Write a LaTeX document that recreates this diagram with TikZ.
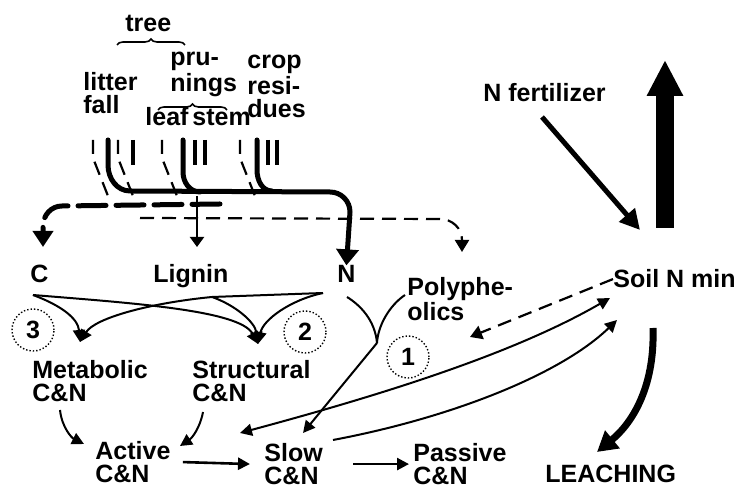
\documentclass[tikz,border=0pt]{standalone}
\usepackage{fontspec}
\setmainfont{Liberation Sans}
\usetikzlibrary{arrows.meta, positioning, decorations.pathreplacing}

\begin{document}
\begin{tikzpicture}[x=0.5pt, y=-0.5pt,
    lbl/.style={inner sep=0pt, font=\bfseries\fontsize{12.5}{11.5}\selectfont, align=left},
    flow/.style={line width=2.5pt, line cap=round},
    link/.style={line width=1pt, -{Triangle[length=6pt, width=6pt]}},
    pflow/.style={line width=1.1pt, dash pattern=on 7pt off 4pt},
    ring/.style={draw, circle, densely dotted, line width=0.7pt, minimum size=21pt}]
    \useasboundingbox (0,0) rectangle (740,490);

    % Residue sources
    \node[lbl, anchor=base west] (tree) at (125,32) {tree};
    \node[lbl, anchor=north west] (prun) at (170,52) {pru-\\nings};
    \node[lbl, anchor=north west] (crop) at (247,55) {crop\\resi-\\dues};
    \node[lbl, anchor=north west] (litter) at (83,72) {litter\\fall};
    \node[lbl, anchor=base west] (leaf) at (145,126) {leaf};
    \node[lbl, anchor=base west] (stem) at (192,126) {stem};
    \draw[decorate, decoration={brace, amplitude=3pt}, line width=0.8pt] (117,45) -- (185,45);
    \draw[decorate, decoration={brace, amplitude=3pt}, line width=0.8pt] (158,110) -- (227,110);

    % Pools
    \node[lbl, anchor=base west] (C) at (30,283) {C};
    \node[lbl, anchor=base west] (lignin) at (153,283) {Lignin};
    \node[lbl, anchor=base west] (N) at (337,283) {N};
    \node[lbl, anchor=north west] (poly) at (407,277) {Polyphe-\\olics};
    \node[lbl, anchor=base west] (soil) at (613,288) {Soil N min};
    \node[lbl, anchor=base west] (fert) at (483,102) {N fertilizer};
    \node[lbl, anchor=base west] (leach) at (545,483) {LEACHING};
    \node[lbl, anchor=north west] (meta) at (32,360) {Metabolic\\C\&N};
    \node[lbl, anchor=north west] (struct) at (192,360) {Structural\\C\&N};
    \node[lbl, anchor=north west] (active) at (95,441) {Active\\C\&N};
    \node[lbl, anchor=north west] (slow) at (264,443) {Slow\\C\&N};
    \node[lbl, anchor=north west] (passive) at (413,443) {Passive\\C\&N};

    % Numbered controls
    \node[lbl, ring] (r3) at (33,330) {3};
    \node[lbl, ring] (r2) at (305,332) {2};
    \node[lbl, ring] (r1) at (408,357) {1};

    % Short stream bars under the sources
    \foreach \x in {133,195,205,268,277}
        \draw[line width=2.2pt] (\x,140) -- (\x,165);
    \foreach \x in {93,118,162,240}
        \draw[pflow] (\x,140) -- (\x,158) -- (\x+15,196);

    % N stream (solid)
    \draw[flow, -{Triangle[length=8pt, width=11pt]}] (108,140) -- (108,165) to[out=-90, in=180] (130,191) -- (330,192) to[out=0, in=90] (350,212) -- (N.north);
    \draw[flow] (183,140) -- (183,172) to[out=-90, in=180] (200,192);
    \draw[flow] (257,140) -- (257,170) to[out=-90, in=180] (272,191);

    % C stream (thick dashed) and lignin / polyphenolic streams
    \draw[flow, dash pattern=on 14pt off 5pt, -{Triangle[length=8pt, width=10pt]}] (220,204) -- (62,206) to[out=180, in=90] (43,226) -- (43,247);
    \draw[line width=1pt, -{Triangle[length=5pt, width=7pt]}] (197,196) -- (197,247);
    \draw[pflow, -{Triangle[length=6pt, width=7pt]}] (140,218) -- (440,219) to[out=0, in=90] (462,240) -- (462,252);

    % Partitioning into metabolic and structural
    \coordinate (cs) at (33,295);
    \coordinate (ls) at (212,297);
    \coordinate (ns) at (323,293);
    \coordinate (ma) at (80,342);
    \coordinate (sa) at (258,344);
    \draw[link] (cs) .. controls (60,305) and (78,318) .. (ma);
    \draw[link] (ns) -- (ls) .. controls (150,303) and (95,318) .. (ma);
    \draw[link] (cs) .. controls (130,303) and (240,310) .. (sa);
    \draw[link] (ls) .. controls (235,305) and (255,322) .. (sa);
    \draw[link] (ns) .. controls (290,300) and (263,320) .. (sa);

    % N and polyphenolics into slow pool
    \coordinate (nj) at (377,343);
    \draw[line width=1pt] (347,297) .. controls (360,305) and (375,320) .. (nj);
    \draw[line width=1pt] (405,295) .. controls (390,305) and (378,325) .. (nj);
    \draw[link] (nj) -- (303,433);

    % Soil organic matter flows
    \draw[link] (60,410) .. controls (62,428) and (72,438) .. (84,444);
    \draw[link] (203,412) .. controls (200,428) and (192,438) .. (180,446);
    \draw[link, line width=1.3pt] ([xshift=6pt]active.east) -- ([xshift=-7pt]slow.west);
    \draw[link, line width=1.3pt] ([xshift=15pt]slow.east) -- ([xshift=-2pt]passive.west);

    % Exchange with mineral N
    \draw[pflow, -{Triangle[length=6pt, width=7pt]}] (soil.west) -- (470,337);
    \draw[link, {Triangle[length=6pt, width=6pt]}-{Triangle[length=6pt, width=6pt]}] (240,433) .. controls (400,390) and (520,350) .. (610,298);
    \draw[link] (333,440) .. controls (450,418) and (560,375) .. (617,320);

    % Fertilizer, uptake and leaching
    \draw[line width=2.5pt, -{Triangle[length=10pt, width=10pt]}] (542,117) -- (640,230);
    \draw[line width=9pt, -{Triangle[length=18pt, width=17pt]}] (665,228) -- (665,60);
    \draw[line width=3.5pt, -{Triangle[length=10pt, width=11pt]}] (653,328) .. controls (655,390) and (630,425) .. (597,452);
\end{tikzpicture}
\end{document}
